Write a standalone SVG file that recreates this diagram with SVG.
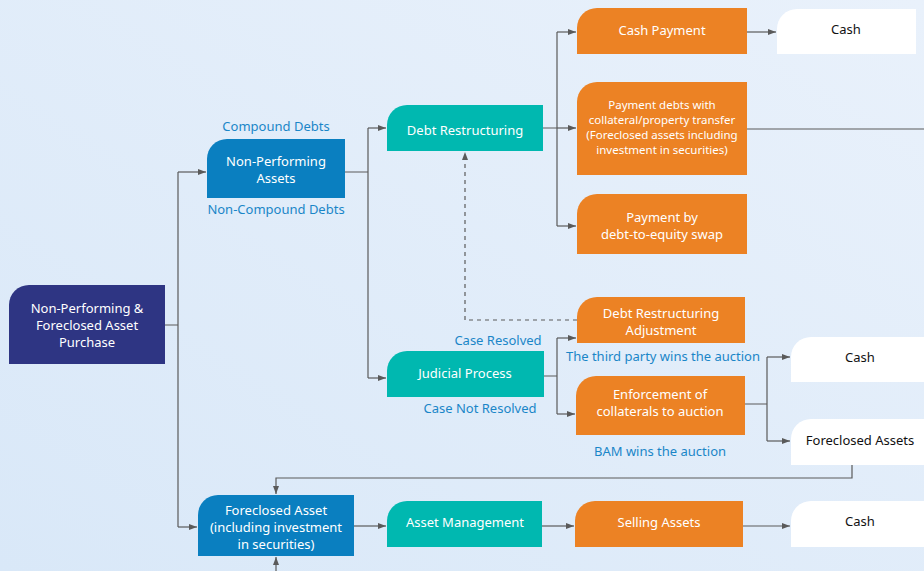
<svg xmlns="http://www.w3.org/2000/svg" width="924" height="571" viewBox="0 0 924 571">
<defs>
<linearGradient id="bg" x1="0" y1="1" x2="1" y2="0">
<stop offset="0" stop-color="#d9e8f8"/>
<stop offset="1" stop-color="#e9f1fb"/>
</linearGradient>
<marker id="arr" markerUnits="userSpaceOnUse" markerWidth="9" markerHeight="7" refX="8" refY="3" orient="auto">
<path d="M0,0 L8,3 L0,6 Z" fill="#5a5a5a"/>
</marker>
<style>
.c{fill:none;stroke:#5a5a5a;stroke-width:1.2}
.a{marker-end:url(#arr)}
.d{stroke-dasharray:4 4}
.t{font-family:"Noto Sans","Liberation Sans",sans-serif;font-size:13px;text-anchor:middle;fill:#ffffff}
.s{font-size:11.5px}
.k{fill:#111111}
.l{font-family:"Noto Sans","Liberation Sans",sans-serif;font-size:13px;text-anchor:middle;fill:#1a86c8}
.navy{fill:#2e3583}
.blue{fill:#0a7fc0}
.teal{fill:#00b8b0}
.orange{fill:#ec8224}
.white{fill:#ffffff}
</style>
</defs>
<rect width="924" height="571" fill="url(#bg)"/>
<g id="connectors">
<path class="c" d="M165,325 H178 M178,172 V527"/>
<path class="c a" d="M178,172 H206"/>
<path class="c a" d="M178,527 H197"/>
<path class="c" d="M345,172 H368 M368,128 V378"/>
<path class="c a" d="M368,128 H386"/>
<path class="c a" d="M368,378 H386"/>
<path class="c" d="M543,128 H557 M557,32 V226"/>
<path class="c a" d="M557,32 H576"/>
<path class="c a" d="M557,128 H576"/>
<path class="c a" d="M557,226 H576"/>
<path class="c a" d="M747,32 H776"/>
<path class="c" d="M747,129 H924"/>
<path class="c" d="M544,376 H557 M557,338 V414"/>
<path class="c a" d="M557,338 H576"/>
<path class="c a" d="M557,414 H575"/>
<path class="c d a" d="M577,320 H465 V152"/>
<path class="c" d="M745,404 H767 M767,357 V441"/>
<path class="c a" d="M767,357 H790"/>
<path class="c a" d="M767,441 H790"/>
<path class="c a" d="M852,465 V478 H276 V494"/>
<path class="c a" d="M276,571 V557"/>
<path class="c a" d="M354,526 H386"/>
<path class="c a" d="M542,526 H574"/>
<path class="c a" d="M743,526 H790"/>
</g>
<g id="labels">
<text class="l" x="276" y="131">Compound Debts</text>
<text class="l" x="276" y="214">Non-Compound Debts</text>
<text class="l" x="498" y="345">Case Resolved</text>
<text class="l" x="480" y="413">Case Not Resolved</text>
<text class="l" x="663" y="361">The third party wins the auction</text>
<text class="l" x="660" y="456">BAM wins the auction</text>
</g>
<g id="n-main">
<path class="navy" d="M29,285 H165 V364 H9 V305 A20,20 0 0 1 29,285 Z"/>
<text class="t" x="87" y="313">Non-Performing &amp;</text>
<text class="t" x="87" y="330">Foreclosed Asset</text>
<text class="t" x="87" y="347">Purchase</text>
</g>
<g id="n-npa">
<path class="blue" d="M227,139 H345 V198 H207 V159 A20,20 0 0 1 227,139 Z"/>
<text class="t" x="276" y="166">Non-Performing</text>
<text class="t" x="276" y="183">Assets</text>
</g>
<g id="n-dr">
<path class="teal" d="M407,105 H543 V151 H387 V125 A20,20 0 0 1 407,105 Z"/>
<text class="t" x="465" y="135">Debt Restructuring</text>
</g>
<g id="n-cp">
<path class="orange" d="M597,8 H747 V54 H577 V28 A20,20 0 0 1 597,8 Z"/>
<text class="t" x="662" y="35">Cash Payment</text>
</g>
<g id="n-cash1">
<path class="white" d="M797,9 H916 V54 H777 V29 A20,20 0 0 1 797,9 Z"/>
<text class="t k" x="846" y="34">Cash</text>
</g>
<g id="n-pdw">
<path class="orange" d="M597,82 H747 V175 H577 V102 A20,20 0 0 1 597,82 Z"/>
<text class="t s" x="662" y="109">Payment debts with</text>
<text class="t s" x="662" y="124">collateral/property transfer</text>
<text class="t s" x="662" y="139">(Foreclosed assets including</text>
<text class="t s" x="662" y="154">investment in securities)</text>
</g>
<g id="n-pbs">
<path class="orange" d="M597,194 H747 V254 H577 V214 A20,20 0 0 1 597,194 Z"/>
<text class="t" x="662" y="222">Payment by</text>
<text class="t" x="662" y="239">debt-to-equity swap</text>
</g>
<g id="n-dra">
<path class="orange" d="M597,297 H745 V343 H577 V317 A20,20 0 0 1 597,297 Z"/>
<text class="t" x="661" y="318">Debt Restructuring</text>
<text class="t" x="661" y="335">Adjustment</text>
</g>
<g id="n-jp">
<path class="teal" d="M407,351 H544 V397 H387 V371 A20,20 0 0 1 407,351 Z"/>
<text class="t" x="465" y="378">Judicial Process</text>
</g>
<g id="n-ec">
<path class="orange" d="M596,376 H745 V435 H576 V396 A20,20 0 0 1 596,376 Z"/>
<text class="t" x="660" y="399">Enforcement of</text>
<text class="t" x="660" y="416">collaterals to auction</text>
</g>
<g id="n-cash2">
<path class="white" d="M811,337 H930 V382 H791 V357 A20,20 0 0 1 811,337 Z"/>
<text class="t k" x="860" y="362">Cash</text>
</g>
<g id="n-fa">
<path class="white" d="M811,419 H930 V465 H791 V439 A20,20 0 0 1 811,419 Z"/>
<text class="t k" x="860" y="445">Foreclosed Assets</text>
</g>
<g id="n-fai">
<path class="blue" d="M218,495 H354 V556 H198 V515 A20,20 0 0 1 218,495 Z"/>
<text class="t" x="276" y="515">Foreclosed Asset</text>
<text class="t" x="276" y="532">(including investment</text>
<text class="t" x="276" y="549">in securities)</text>
</g>
<g id="n-am">
<path class="teal" d="M407,501 H542 V547 H387 V521 A20,20 0 0 1 407,501 Z"/>
<text class="t" x="465" y="527">Asset Management</text>
</g>
<g id="n-sa">
<path class="orange" d="M595,501 H743 V547 H575 V521 A20,20 0 0 1 595,501 Z"/>
<text class="t" x="659" y="527">Selling Assets</text>
</g>
<g id="n-cash3">
<path class="white" d="M811,501 H930 V547 H791 V521 A20,20 0 0 1 811,501 Z"/>
<text class="t k" x="860" y="526">Cash</text>
</g>
</svg>
